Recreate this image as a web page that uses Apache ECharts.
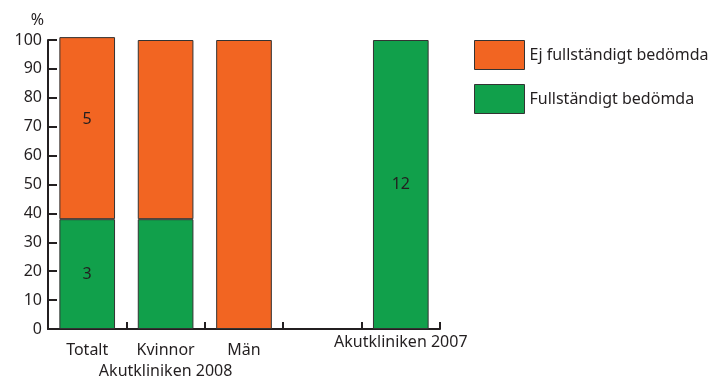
<!DOCTYPE html>
<html>
<head>
<meta charset="utf-8">
<script src="https://cdn.jsdelivr.net/npm/echarts@6/dist/echarts.min.js"></script>
<style>
  html, body { margin: 0; padding: 0; background: #fff; }
  #chart { width: 718px; height: 382px; }
</style>
</head>
<body>
<div id="chart"></div>
<script>
// Categories along the x axis (the fourth slot is an intentional gap)
const categories = ['Totalt', 'Kvinnor', 'Män', '', 'Akutkliniken 2007'];
// Group caption shown under the middle 2008 category
const groupCaption = 'Akutkliniken 2008';
// Share (%) fully assessed / not fully assessed
const fullPct = [38, 38, null, null, 100];
const notFullPct = [63, 62, 100, null, null];
// Case counts written inside the segments
const fullCount = [3, null, null, null, 12];
const notFullCount = [5, null, null, null, null];
const yTicks = [0, 10, 20, 30, 40, 50, 60, 70, 80, 90, 100];

const INK = '#231f20';
const ORANGE = '#f26522';
const GREEN = '#11a04b';
const FONT = 'Noto Sans';
const FS = 16;

const chart = echarts.init(document.getElementById('chart'));

function countLabel(counts, offset) {
  return {
    show: true,
    position: 'inside',
    offset: offset,
    color: INK,
    fontFamily: FONT,
    fontSize: FS,
    formatter: p => (counts[p.dataIndex] == null ? '' : String(counts[p.dataIndex]))
  };
}

chart.setOption({
  animation: false,
  textStyle: { fontFamily: FONT, color: INK },
  grid: { left: 48, right: 278, top: 40, bottom: 53 },
  legend: {
    orient: 'vertical',
    left: 474,
    top: 40,
    padding: 0,
    itemWidth: 50,
    itemHeight: 29,
    itemGap: 14,
    icon: 'rect',
    data: ['Ej fullständigt bedömda', 'Fullständigt bedömda'],
    textStyle: { fontFamily: FONT, fontSize: FS, color: INK },
    itemStyle: { borderColor: '#333', borderWidth: 1 }
  },
  xAxis: {
    type: 'category',
    data: categories,
    axisLine: { lineStyle: { color: INK, width: 2 } },
    axisTick: { show: true, inside: true, length: 7, lineStyle: { color: INK, width: 2 } },
    axisLabel: {
      interval: 0,
      margin: 5,
      color: INK,
      fontFamily: FONT,
      fontSize: FS,
      formatter: (v, i) => {
        if (i === 4) return '{top|' + v + '}';
        if (i === 1) return '{low|' + v + '}\n{cap|' + groupCaption + '}';
        return v ? '{low|' + v + '}' : '';
      },
      rich: {
        top: { fontSize: FS, color: INK, fontFamily: FONT },
        low: { fontSize: FS, color: INK, fontFamily: FONT, padding: [8, 0, 0, 0] },
        cap: { fontSize: FS, color: INK, fontFamily: FONT, lineHeight: 27 }
      }
    }
  },
  yAxis: {
    type: 'value',
    min: yTicks[0],
    max: yTicks[yTicks.length - 1],
    interval: 10,
    name: '%',
    nameGap: 12,
    nameTextStyle: { fontFamily: FONT, fontSize: FS, color: INK, align: 'right', padding: [0, 4, 0, 0] },
    axisLine: { show: true, lineStyle: { color: INK, width: 2 } },
    axisTick: { show: true, inside: true, length: 9, lineStyle: { color: INK, width: 2 } },
    axisLabel: { margin: 6, color: INK, fontFamily: FONT, fontSize: FS },
    splitLine: { show: false }
  },
  series: [
    {
      name: 'Fullständigt bedömda',
      type: 'bar',
      stack: 'share',
      barWidth: '71%',
      clip: false,
      data: fullPct,
      itemStyle: { color: GREEN, borderColor: '#333', borderWidth: 1 },
      label: countLabel(fullCount, [0, 0])
    },
    {
      name: 'Ej fullständigt bedömda',
      type: 'bar',
      stack: 'share',
      barWidth: '71%',
      clip: false,
      data: notFullPct,
      itemStyle: { color: ORANGE, borderColor: '#333', borderWidth: 1 },
      label: countLabel(notFullCount, [0, -9])
    }
  ]
});
</script>
</body>
</html>
